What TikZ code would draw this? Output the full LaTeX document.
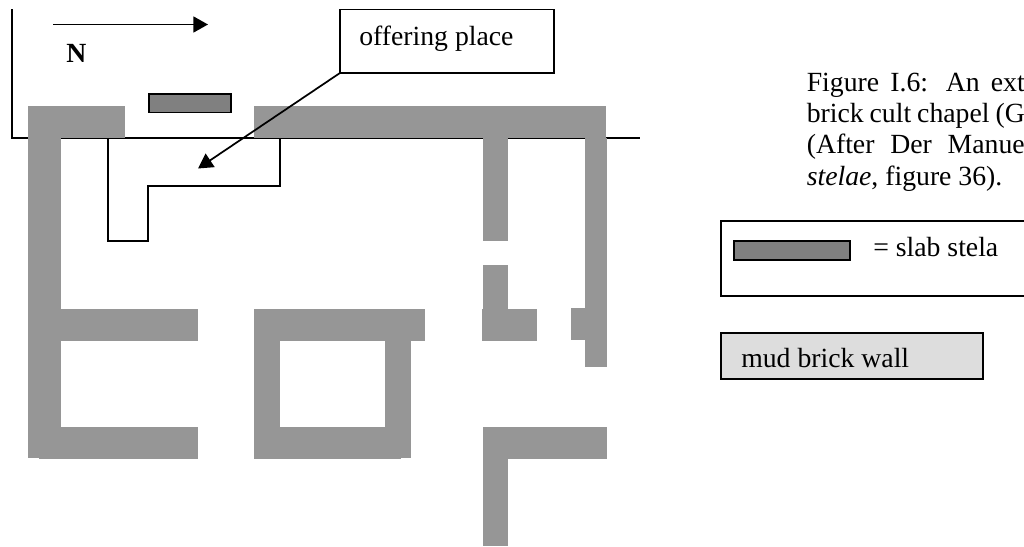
\documentclass[tikz,border=0pt]{standalone}
\usepackage{fontspec}
\setmainfont{Liberation Serif}
\usetikzlibrary{arrows.meta}

\definecolor{wallgray}{HTML}{969696}
\definecolor{stelagray}{HTML}{808080}
\definecolor{mudgray}{HTML}{DDDDDD}

\tikzset{
  wall/.style={fill=wallgray, draw=none},
  stela/.style={draw=black, fill=stelagray, line width=1.3pt, anchor=north west, inner sep=0pt, outer sep=0pt},
  plaintext/.style={inner sep=0pt, anchor=base west},
  framebox/.style={draw=black, line width=1.3pt, anchor=north west, inner sep=0pt, outer sep=0pt},
  bigtip/.style={-{Triangle[length=11pt, width=12pt]}, line width=1.3pt}
}
\newcommand{\capline}[1]{\makebox[163.5pt][s]{#1}}

\begin{document}
\begin{tikzpicture}[x=0.75pt, y=-0.75pt, every node/.style={font=\fontsize{20.8}{25}\selectfont}]
\useasboundingbox (0,0) rectangle (1024,546);

% site outline, under the walls
\draw[line width=1.3pt] (12,9) -- (12,138) -- (640,138);
\draw[line width=1.3pt] (108,138) -- (108,241) -- (148,241) -- (148,186) -- (280,186) -- (280,138);

% walls
\fill[wall] (28,106) rectangle (125,138);
\fill[wall] (254,106) rectangle (606,138);
\fill[wall] (28,106) rectangle (61,458);
\fill[wall] (39,309) rectangle (198,341);
\fill[wall] (39,427) rectangle (198,459);
\fill[wall] (254,309) rectangle (425,341);
\fill[wall] (254,309) rectangle (280,459);
\fill[wall] (385,309) rectangle (411,458);
\fill[wall] (254,427) rectangle (401,459);
\fill[wall] (483,138) rectangle (508,241);
\fill[wall] (483,265) rectangle (508,309);
\fill[wall] (482,309) rectangle (537,341);
\fill[wall] (585,138) rectangle (607,367);
\fill[wall] (571,308) rectangle (585,340);
\fill[wall] (483,427) rectangle (607,459);
\fill[wall] (483,459) rectangle (508,546);

% stela in the plan
\node[stela, minimum width=61.5pt, minimum height=13.9pt] (slab) at (149,94) {};

% north arrow
\coordinate (northtail) at (53,24.5);
\coordinate (northhead) at (208,24.5);
\draw[bigtip] (northtail) -- (northhead);
\node[plaintext, font=\fontsize{20.8}{25}\selectfont\bfseries] (north) at (66,62) {N};

% offering place
\node[framebox, minimum width=160.5pt, minimum height=47.6pt] (offering) at (340,9.5) {};
\node[plaintext] (offeringtext) at (359,45) {offering place};
\coordinate (offeringpt) at (198,168.5);
\draw[bigtip] (offering.south west) -- (offeringpt);

% caption
\node[plaintext] (cap1) at (806.5,91) {\capline{Figure I.6: An ext}};
\node[plaintext] (cap2) at (806.5,122) {\capline{brick cult chapel (G}};
\node[plaintext] (cap3) at (806.5,153) {\capline{(After Der Manue}};
\node[plaintext] (cap4) at (806.5,185) {\textit{stelae}, figure 36).};

% legend
\node[framebox, minimum width=240pt, minimum height=56.25pt] (legend) at (721,221) {};
\node[stela, minimum width=87pt, minimum height=14pt] (legendslab) at (734,241) {};
\node[plaintext] (legendtext) at (873,256) {= slab stela};
\node[framebox, fill=mudgray, minimum width=196.5pt, minimum height=34.5pt] (mud) at (721,333) {};
\node[plaintext] (mudtext) at (741,367) {mud brick wall};

\end{tikzpicture}
\end{document}
